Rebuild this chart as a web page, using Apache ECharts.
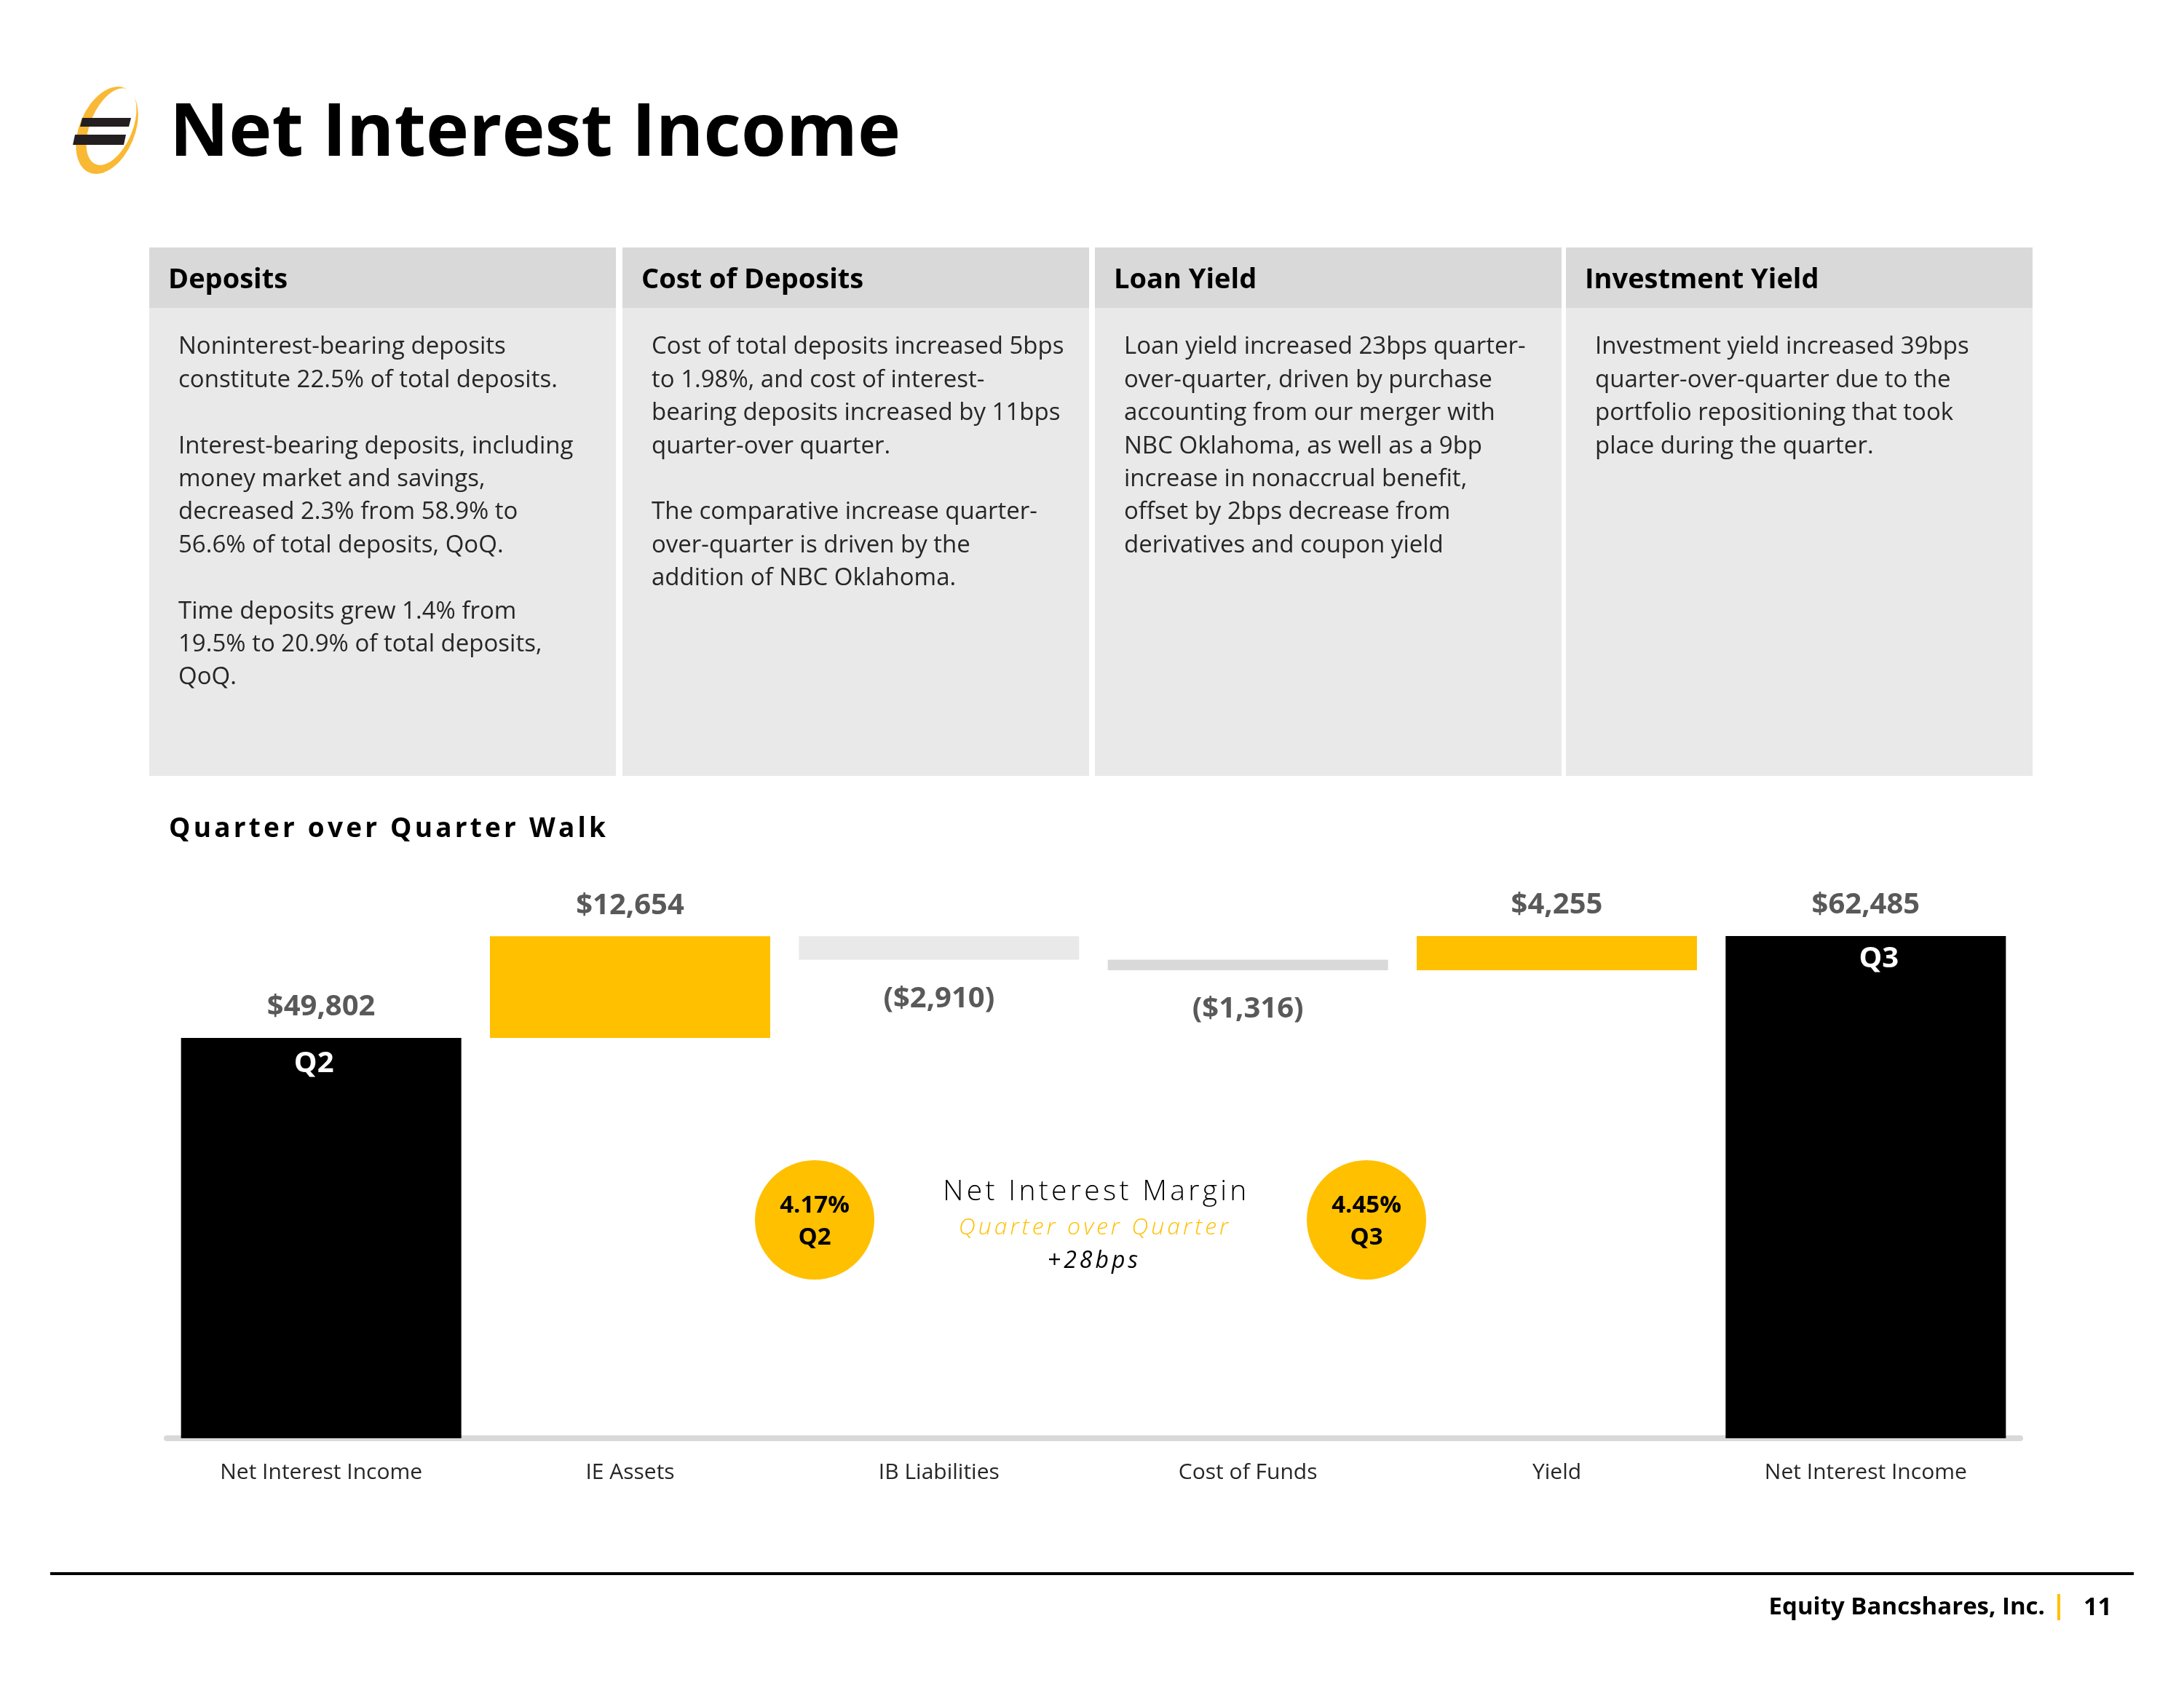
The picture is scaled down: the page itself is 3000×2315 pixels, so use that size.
<!DOCTYPE html>
<html lang="en">
<head>
    <meta charset="UTF-8">
    <title>Net Interest Income</title>
    <script src="https://cdn.jsdelivr.net/npm/echarts@6.0.0/dist/echarts.min.js"></script>
    <style>
        html, body { margin: 0; padding: 0; background: #fff; }
        #page { position: relative; width: 3000px; height: 2315px; overflow: hidden; }
        #chart { position: absolute; left: 0; top: 0; width: 3000px; height: 2315px; }
        .spaced { position: absolute; white-space: nowrap; font-family: 'Open Sans', sans-serif; }
    </style>
</head>
<body>
<div id="page">
    <div id="chart"></div>
    <div class="spaced" style="left:232px;top:1110px;height:52px;line-height:52px;font-size:37px;font-weight:bold;letter-spacing:4.2px;color:#000;">Quarter over Quarter Walk</div>
    <div class="spaced" style="left:1202px;width:600px;text-align:center;top:1608px;height:52px;line-height:52px;font-size:39px;font-weight:300;letter-spacing:4.3px;padding-left:4px;color:#000;">Net Interest Margin</div>
    <div class="spaced" style="left:1200px;width:600px;text-align:center;top:1660px;height:48px;line-height:48px;font-size:32px;font-style:italic;font-weight:300;letter-spacing:4px;padding-left:4px;color:#FFC000;">Quarter over Quarter</div>
    <div class="spaced" style="left:1199px;width:600px;text-align:center;top:1706px;height:48px;line-height:48px;font-size:32px;font-style:italic;letter-spacing:4px;padding-left:4px;color:#000;">+28bps</div>
</div>
<script>
    // waterfall data
    var categories = ['Net Interest Income', 'IE Assets', 'IB Liabilities', 'Cost of Funds', 'Yield', 'Net Interest Income'];
    var startValue = 49802;
    var changes = [12654, -2910, -1316, 4255];
    var endValue = 62485;
    var quarterTags = ['Q2', 'Q3'];
    var barColors = ['#000000', '#FFC000', '#E9E9E9', '#D9D9D9', '#FFC000', '#000000'];

    // net interest margin
    var nimValues = ['4.17%', '4.45%'];
    var nimQuarters = ['Q2', 'Q3'];

    // table
    var headers = ['Deposits', 'Cost of Deposits', 'Loan Yield', 'Investment Yield'];
    var bodies = [
        ['Noninterest-bearing deposits', 'constitute 22.5% of total deposits.', '', 'Interest-bearing deposits, including', 'money market and savings,', 'decreased 2.3% from 58.9% to', '56.6% of total deposits, QoQ.', '', 'Time deposits grew 1.4% from', '19.5% to 20.9% of total deposits,', 'QoQ.'],
        ['Cost of total deposits increased 5bps', 'to 1.98%, and cost of interest-', 'bearing deposits increased by 11bps', 'quarter-over quarter.', '', 'The comparative increase quarter-', 'over-quarter is driven by the', 'addition of NBC Oklahoma.'],
        ['Loan yield increased 23bps quarter-', 'over-quarter, driven by purchase', 'accounting from our merger with', 'NBC Oklahoma, as well as a 9bp', 'increase in nonaccrual benefit,', 'offset by 2bps decrease from', 'derivatives and coupon yield'],
        ['Investment yield increased 39bps', 'quarter-over-quarter due to the', 'portfolio repositioning that took', 'place during the quarter.']
    ];

    function money(v) {
        var s = '$' + Math.abs(v).toLocaleString('en-US');
        return v < 0 ? '(' + s + ')' : s;
    }

    var values = [startValue].concat(changes).concat([endValue]);
    var baseData = [];
    var barData = [];
    var tagData = [];
    var running = startValue;
    for (var i = 0; i < values.length; i++) {
        var v = values[i];
        var base = 0;
        var isTotal = (i === 0 || i === values.length - 1);
        if (!isTotal) {
            if (v >= 0) { base = running; running += v; }
            else { running += v; base = running; }
        }
        baseData.push(base);
        barData.push({
            value: Math.abs(v),
            itemStyle: { color: barColors[i] },
            label: {
                show: true,
                position: v < 0 ? 'bottom' : 'top',
                distance: v < 0 ? 34 : 22,
                formatter: money(v)
            }
        });
        if (isTotal) {
            var first = (i === 0);
            tagData.push({
                value: v,
                label: { formatter: quarterTags[first ? 0 : 1], offset: [first ? -10 : 18, first ? 4 : 0] }
            });
        } else {
            tagData.push('-');
        }
    }

    var font = "'Open Sans', sans-serif";
    var graphics = [];

    // logo
    graphics.push({ type: 'circle', shape: { cx: 0, cy: 0, r: 1 }, x: 147, y: 179, scaleX: 38, scaleY: 63, rotation: -0.4, style: { fill: '#F9B935' }, z: 10 });
    graphics.push({ type: 'circle', shape: { cx: 0, cy: 0, r: 1 }, x: 153, y: 174, scaleX: 29, scaleY: 56, rotation: -0.4, style: { fill: '#ffffff' }, z: 11 });
    graphics.push({ type: 'polygon', shape: { points: [[113, 162], [180, 162], [177, 174], [110, 174]] }, style: { fill: '#231F20' }, z: 12 });
    graphics.push({ type: 'polygon', shape: { points: [[103, 185], [173, 185], [170, 199], [100, 199]] }, style: { fill: '#231F20' }, z: 12 });

    // title
    graphics.push({ type: 'text', x: 233, y: 186, style: { text: 'Net Interest Income', font: 'bold 100px ' + font, fill: '#000', verticalAlign: 'middle' }, z: 10 });

    // table
    var colX = [205, 855, 1504, 2151];
    var colW = 641;
    for (var c = 0; c < headers.length; c++) {
        graphics.push({ type: 'rect', shape: { x: colX[c], y: 340, width: colW, height: 83 }, style: { fill: '#D9D9D9' }, z: 5 });
        graphics.push({ type: 'rect', shape: { x: colX[c], y: 423, width: colW, height: 643 }, style: { fill: '#E9E9E9' }, z: 5 });
        graphics.push({ type: 'text', x: colX[c] + 26, y: 385, style: { text: headers[c], font: 'bold 38px ' + font, fill: '#000', verticalAlign: 'middle' }, z: 10 });
        graphics.push({ type: 'text', x: colX[c] + 40, y: 477 - 22.7, style: { text: bodies[c].join('\n'), font: '33px ' + font, lineHeight: 45.4, fill: '#262626', verticalAlign: 'top' }, z: 10 });
    }

    // net interest margin circles
    var circleX = [1119, 1877];
    for (var k = 0; k < 2; k++) {
        graphics.push({ type: 'circle', shape: { cx: circleX[k], cy: 1676, r: 82 }, style: { fill: '#FFC000' }, z: 10 });
        graphics.push({ type: 'text', x: circleX[k], y: 1657, style: { text: nimValues[k], font: 'bold 33px ' + font, fill: '#000', align: 'center', verticalAlign: 'middle' }, z: 11 });
        graphics.push({ type: 'text', x: circleX[k], y: 1701, style: { text: nimQuarters[k], font: 'bold 33px ' + font, fill: '#000', align: 'center', verticalAlign: 'middle' }, z: 11 });
    }

    // footer
    graphics.push({ type: 'rect', shape: { x: 69, y: 2160, width: 2862, height: 4 }, style: { fill: '#000' }, z: 10 });
    graphics.push({ type: 'text', x: 2809, y: 2209, style: { text: 'Equity Bancshares, Inc.', font: 'bold 33px ' + font, fill: '#000', align: 'right', verticalAlign: 'middle' }, z: 10 });
    graphics.push({ type: 'rect', shape: { x: 2826, y: 2190, width: 4, height: 36 }, style: { fill: '#FFC000' }, z: 10 });
    graphics.push({ type: 'text', x: 2862, y: 2209, style: { text: '11', font: 'bold 34px ' + font, fill: '#000', verticalAlign: 'middle' }, z: 10 });

    var option = {
        animation: false,
        backgroundColor: '#fff',
        textStyle: { fontFamily: font },
        grid: { left: 229, right: 225, top: 1203, bottom: 339 },
        xAxis: {
            type: 'category',
            data: categories,
            axisTick: { show: false },
            axisLine: { lineStyle: { color: '#D9D9D9', width: 8 } },
            axisLabel: { fontSize: 30, color: '#262626', margin: 32, fontFamily: font }
        },
        yAxis: {
            type: 'value',
            min: 0,
            max: 70000,
            show: false,
            splitLine: { show: false }
        },
        series: [
            {
                name: 'base',
                type: 'bar',
                stack: 'walk',
                barWidth: 385,
                itemStyle: { color: 'rgba(0,0,0,0)' },
                data: baseData
            },
            {
                name: 'change',
                type: 'bar',
                stack: 'walk',
                barWidth: 385,
                label: { fontSize: 40, fontWeight: 'bold', color: '#595959', fontFamily: font },
                data: barData
            },
            {
                name: 'tag',
                type: 'bar',
                barWidth: 385,
                barGap: '-100%',
                itemStyle: { color: 'rgba(0,0,0,0)' },
                label: { show: true, position: 'insideTop', distance: 12, fontSize: 40, fontWeight: 'bold', color: '#fff', fontFamily: font },
                data: tagData
            }
        ],
        graphic: { elements: graphics }
    };
    var chart = echarts.init(document.getElementById('chart'));
    chart.setOption(option);
</script>
</body>
</html>
